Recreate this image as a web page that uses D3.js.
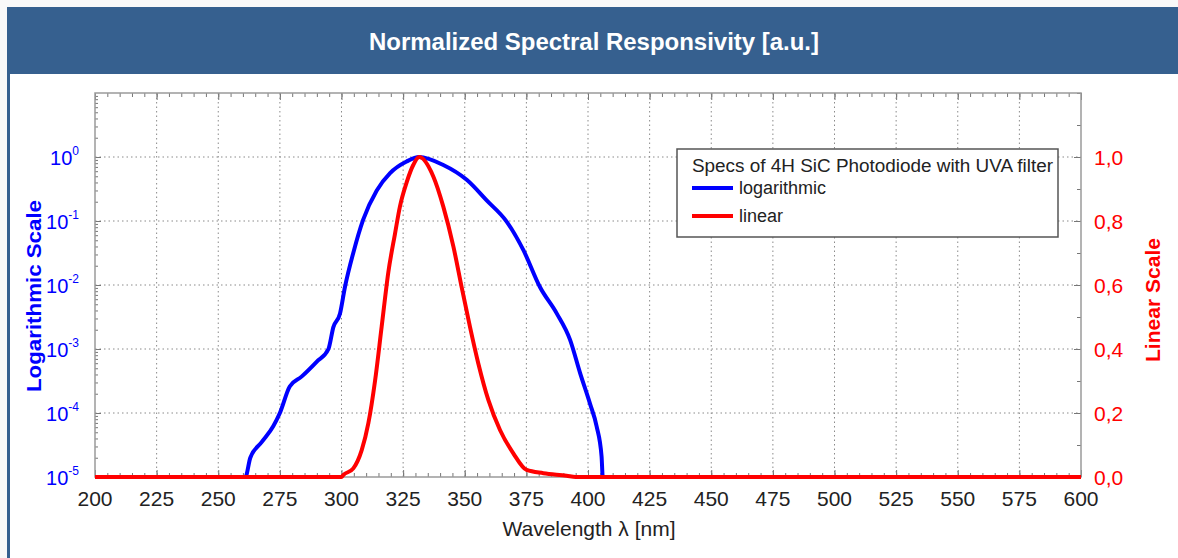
<!DOCTYPE html>
<html>
<head>
<meta charset="utf-8">
<script src="https://cdn.jsdelivr.net/npm/d3@7"></script>
<style>
  body { margin: 0; background: #f9f9f9; }
  svg { display: block; font-family: "Liberation Sans", Arial, Helvetica, sans-serif; }
</style>
</head>
<body>
<div id="chart"></div>
<script>
// Spectral responsivity of a 4H SiC photodiode (UVA filter)
const logWavelengths = [200, 261, 263, 267.6, 272.3, 275, 279, 283.8, 289.9, 294.7, 296.7, 299.4, 301.4,
  304.8, 308.8, 314.3, 319.7, 326.4, 331.5, 341.3, 350.8, 358.9, 367, 373.8, 380.5, 387.3, 392.7,
  396.8, 400.8, 403.5, 405.5, 406, 600];
const logValues = [1e-5, 1e-5, 2.0e-5, 3.5e-5, 6.2e-5, 1.0e-4, 2.6e-4, 3.7e-4, 6.3e-4, 1.0e-3, 2.2e-3, 3.6e-3, 9.3e-3,
  3.2e-2, 0.105, 0.30, 0.56, 0.85, 1.0, 0.75, 0.44, 0.21, 0.098, 0.035, 9.3e-3, 3.6e-3, 1.4e-3,
  4.2e-4, 1.4e-4, 6.2e-5, 2.1e-5, 1e-5, 1e-5];

const linWavelengths = [200, 300, 300.7, 304.8, 308.2, 310.9, 313.6, 316.3, 319, 321.7, 323.7, 326.4, 329.1,
  331.5, 337.2, 341.3, 345.4, 348.7, 352.1, 355.5, 359.6, 364.3, 369.7, 375.1, 381.9, 391.3, 395, 600];
const linValues = [0, 0, 0.006, 0.027, 0.084, 0.168, 0.30, 0.47, 0.64, 0.76, 0.845, 0.92, 0.975,
  1.0, 0.94, 0.845, 0.72, 0.595, 0.47, 0.355, 0.24, 0.147, 0.074, 0.022, 0.012, 0.004, 0, 0];

const xTicks = d3.range(200, 601, 25);
const logTicks = [1e-5, 1e-4, 1e-3, 1e-2, 1e-1, 1e0];
const linTicks = [0, 0.2, 0.4, 0.6, 0.8, 1.0];
const legendTitle = 'Specs of 4H SiC Photodiode with UVA filter';
const seriesNames = ['logarithmic', 'linear'];

const W = 1178, H = 558;
const plot = { left: 95, right: 1081, top: 93, bottom: 477 };

const svg = d3.select('#chart').append('svg')
    .attr('width', W)
    .attr('height', H);

// page frame: header bar + left border
svg.append('rect').attr('x', 7).attr('y', 74).attr('width', W - 7).attr('height', H - 74).attr('fill', '#fff');
svg.append('rect').attr('x', 7).attr('y', 7).attr('width', W - 7).attr('height', 67).attr('fill', '#36608f');
svg.append('rect').attr('x', 7).attr('y', 7).attr('width', 3).attr('height', H - 7).attr('fill', '#36608f');
svg.append('text')
    .attr('x', 594).attr('y', 50)
    .attr('text-anchor', 'middle')
    .attr('fill', '#fff')
    .attr('font-weight', 'bold')
    .attr('font-size', 23)
    .attr('textLength', 450).attr('lengthAdjust', 'spacingAndGlyphs')
    .text('Normalized Spectral Responsivity [a.u.]');

const x = d3.scaleLinear().domain([200, 600]).range([plot.left, plot.right]);
const yLog = d3.scaleLog().domain([1e-5, 1e1]).range([plot.bottom, plot.top]);
const yLin = d3.scaleLinear().domain([0, 1.2]).range([plot.bottom, plot.top]);

const g = svg.append('g');

// dotted grid
const gridStyle = sel => sel.attr('stroke', '#8a8a8a').attr('stroke-width', 1).attr('stroke-dasharray', '1.5,3');
g.selectAll('.vgrid').data(xTicks.slice(1, -1)).enter().append('line')
    .attr('class', 'vgrid')
    .attr('x1', d => x(d)).attr('x2', d => x(d))
    .attr('y1', plot.top).attr('y2', plot.bottom)
    .call(gridStyle);
g.selectAll('.hgrid').data(logTicks.slice(1)).enter().append('line')
    .attr('class', 'hgrid')
    .attr('x1', plot.left).attr('x2', plot.right)
    .attr('y1', d => yLog(d)).attr('y2', d => yLog(d))
    .call(gridStyle);

// inward ticks via d3 axes
const tickColor = '#777';
function styleAxis(sel) {
    sel.select('.domain').remove();
    sel.selectAll('line').attr('stroke', tickColor);
    sel.selectAll('text').remove();
}
const xMinor = d3.range(200, 601, 5);
g.append('g').attr('transform', `translate(0,${plot.bottom})`)
    .call(d3.axisTop(x).tickValues(xMinor).tickSize(4)).call(styleAxis);
g.append('g').attr('transform', `translate(0,${plot.bottom})`)
    .call(d3.axisTop(x).tickValues(xTicks).tickSize(7)).call(styleAxis);
g.append('g').attr('transform', `translate(0,${plot.top})`)
    .call(d3.axisBottom(x).tickValues(xMinor).tickSize(4)).call(styleAxis);
g.append('g').attr('transform', `translate(0,${plot.top})`)
    .call(d3.axisBottom(x).tickValues(xTicks).tickSize(7)).call(styleAxis);

const logMinor = [];
logTicks.concat([1e1]).forEach(t => { for (let k = 2; k < 10; k++) if (t * k < 1e1) logMinor.push(t * k); });
g.append('g').attr('transform', `translate(${plot.left},0)`)
    .call(d3.axisRight(yLog).tickValues(logMinor).tickSize(3)).call(styleAxis);
g.append('g').attr('transform', `translate(${plot.left},0)`)
    .call(d3.axisRight(yLog).tickValues(logTicks).tickSize(6)).call(styleAxis);
g.append('g').attr('transform', `translate(${plot.right},0)`)
    .call(d3.axisLeft(yLin).tickValues(d3.range(0, 1.21, 0.1)).tickSize(4)).call(styleAxis);
g.append('g').attr('transform', `translate(${plot.right},0)`)
    .call(d3.axisLeft(yLin).tickValues(linTicks).tickSize(7)).call(styleAxis);

// frame
g.append('rect')
    .attr('x', plot.left).attr('y', plot.top)
    .attr('width', plot.right - plot.left).attr('height', plot.bottom - plot.top)
    .attr('fill', 'none').attr('stroke', '#9a9a9a').attr('stroke-width', 1.5);

// curves
svg.append('clipPath').attr('id', 'clip').append('rect')
    .attr('x', plot.left).attr('y', plot.top - 3)
    .attr('width', plot.right - plot.left).attr('height', plot.bottom - plot.top + 6);

const logLine = d3.line()
    .x((d, i) => x(logWavelengths[i]))
    .y(d => yLog(Math.max(d, 1e-5)))
    .curve(d3.curveMonotoneX);
const linLine = d3.line()
    .x((d, i) => x(linWavelengths[i]))
    .y(d => yLin(d))
    .curve(d3.curveMonotoneX);

const curves = svg.append('g').attr('clip-path', 'url(#clip)');
curves.append('path').attr('d', logLine(logValues))
    .attr('fill', 'none').attr('stroke', '#0000ff').attr('stroke-width', 4).attr('stroke-linejoin', 'round');
curves.append('path').attr('d', linLine(linValues))
    .attr('fill', 'none').attr('stroke', '#ff0000').attr('stroke-width', 4).attr('stroke-linejoin', 'round');

// tick labels
svg.selectAll('.xlab').data(xTicks).enter().append('text')
    .attr('class', 'xlab')
    .attr('x', d => x(d)).attr('y', 506)
    .attr('text-anchor', 'middle')
    .attr('font-size', 21).attr('fill', '#222')
    .text(d => d);

const logLabels = svg.selectAll('.ylab').data(logTicks).enter().append('text')
    .attr('class', 'ylab')
    .attr('x', 79).attr('y', d => yLog(d) + 8)
    .attr('text-anchor', 'end')
    .attr('font-size', 20).attr('fill', '#0000ff');
logLabels.append('tspan').text('10');
logLabels.append('tspan')
    .attr('dy', -10).attr('font-size', 12)
    .text(d => String(Math.round(Math.log10(d))));

svg.selectAll('.rlab').data(linTicks).enter().append('text')
    .attr('class', 'rlab')
    .attr('x', 1094).attr('y', d => yLin(d) + 8)
    .attr('font-size', 21).attr('fill', '#ff0000')
    .text(d => d.toFixed(1).replace('.', ','));

// axis titles
svg.append('text')
    .attr('transform', 'translate(41,296) rotate(-90)')
    .attr('text-anchor', 'middle')
    .attr('font-size', 21).attr('font-weight', 'bold').attr('fill', '#0000ff')
    .attr('textLength', 192).attr('lengthAdjust', 'spacingAndGlyphs')
    .text('Logarithmic Scale');
svg.append('text')
    .attr('transform', 'translate(1160,300) rotate(-90)')
    .attr('text-anchor', 'middle')
    .attr('font-size', 21).attr('font-weight', 'bold').attr('fill', '#ff0000')
    .attr('textLength', 124).attr('lengthAdjust', 'spacingAndGlyphs')
    .text('Linear Scale');
svg.append('text')
    .attr('x', 589).attr('y', 536)
    .attr('text-anchor', 'middle')
    .attr('font-size', 21).attr('fill', '#222')
    .text('Wavelength λ [nm]');

// legend
const legend = svg.append('g').attr('transform', 'translate(677,149)');
legend.append('rect')
    .attr('width', 381).attr('height', 88)
    .attr('fill', '#fff').attr('stroke', '#555').attr('stroke-width', 1.5);
legend.append('text')
    .attr('x', 15).attr('y', 23)
    .attr('font-size', 17.5).attr('fill', '#222')
    .attr('textLength', 361).attr('lengthAdjust', 'spacingAndGlyphs')
    .text(legendTitle);
const legendColors = ['#0000ff', '#ff0000'];
const items = legend.selectAll('.item').data(seriesNames).enter().append('g')
    .attr('class', 'item')
    .attr('transform', (d, i) => `translate(0,${39 + i * 28})`);
items.append('line')
    .attr('x1', 15).attr('x2', 56)
    .attr('stroke', (d, i) => legendColors[i]).attr('stroke-width', 4);
items.append('text')
    .attr('x', 62).attr('y', 6)
    .attr('font-size', 18).attr('fill', '#222')
    .text(d => d);
</script>
</body>
</html>
